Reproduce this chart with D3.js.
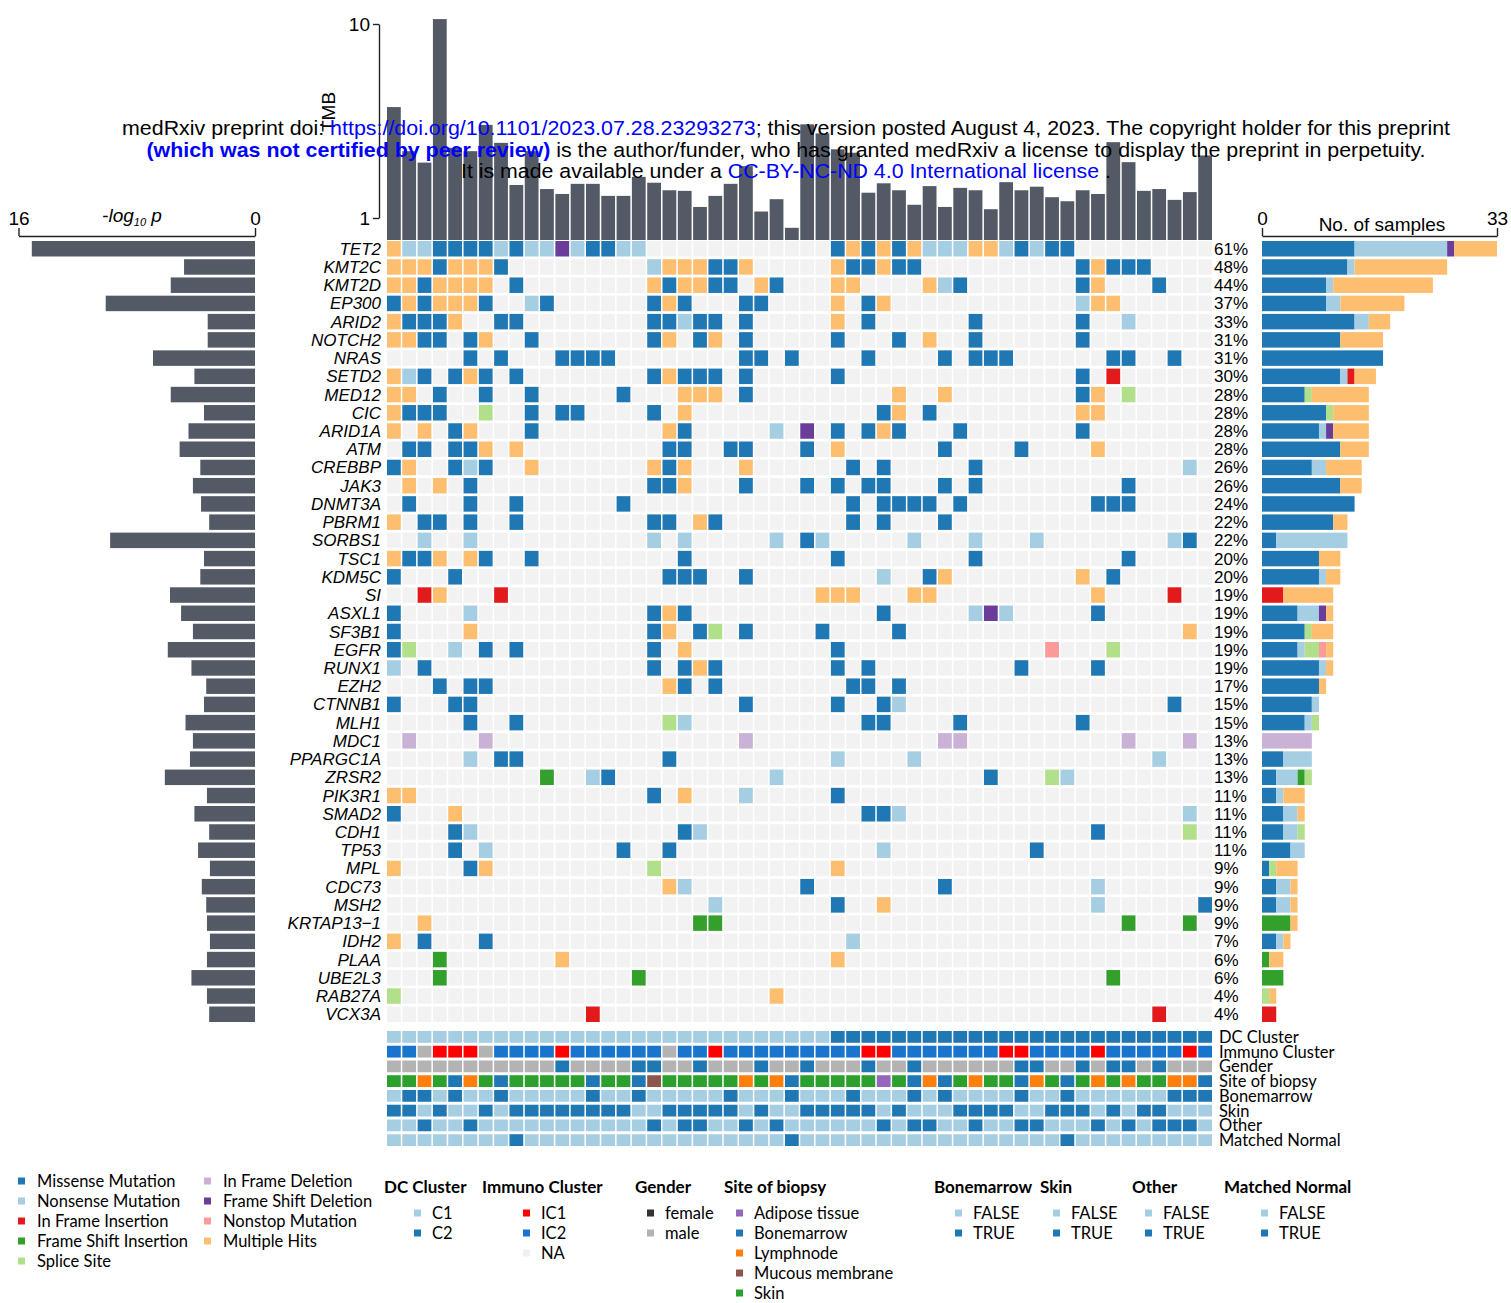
<!DOCTYPE html>
<html>
<head>
<meta charset="utf-8">
<script src="https://cdn.jsdelivr.net/npm/d3@7"></script>
<style>
body { margin: 0; background: #fff; }
text { white-space: pre; }
</style>
</head>
<body>
<div id="plot"></div>
<script>
// genes, top to bottom
var genes = ["TET2","KMT2C","KMT2D","EP300","ARID2","NOTCH2","NRAS","SETD2","MED12","CIC",
  "ARID1A","ATM","CREBBP","JAK3","DNMT3A","PBRM1","SORBS1","TSC1","KDM5C","SI",
  "ASXL1","SF3B1","EGFR","RUNX1","EZH2","CTNNB1","MLH1","MDC1","PPARGC1A","ZRSR2",
  "PIK3R1","SMAD2","CDH1","TP53","MPL","CDC73","MSH2","KRTAP13\u22121","IDH2","PLAA",
  "UBE2L3","RAB27A","VCX3A"];

// -log10 p (left bars)
var logP = [15.1,4.8,5.7,10.1,3.2,3.2,6.9,4.1,5.7,3.45,
  4.5,5.1,3.7,4.2,3.65,3.1,9.8,3.45,3.7,5.75,
  5.0,4.2,5.9,4.3,3.3,3.45,4.7,4.2,4.4,6.1,
  3.25,4.1,3.1,3.85,3.05,3.6,3.3,3.25,3.05,3.25,
  4.3,3.25,3.1];

// tumour mutation burden per sample
var tmb = [3.73,2.21,1.93,10.6,2.30,2.21,3.02,2.44,1.48,2.21,
  1.41,1.33,1.50,1.50,1.30,1.30,1.63,1.52,1.39,1.38,
  1.14,1.30,1.50,1.85,1.08,1.25,0.89,3.04,2.73,2.26,
  2.17,1.35,1.51,1.39,1.17,1.46,1.14,1.43,1.39,1.11,
  1.53,1.39,1.45,1.28,1.22,1.39,1.33,2.46,1.94,1.38,
  1.41,1.24,1.36,2.10];

// mutation calls: samples 1-27 | samples 28-54
// M missense, N nonsense, I in-frame ins, F frame-shift ins, S splice,
// D in-frame del, X frame-shift del, T nonstop, H multi hit, . none
var mutations = [
  ["HNNMMMMNMNNXNMMNN..........", "..MHMHMHNNNHHNMNMM........."],
  ["HHHMHHHM.........NHHHMMH...", "..HMMHMM..........MHMMM...."],
  ["HHMHHHH.M........HMHHMM.HM.", "..HH....HNM.......MH...M..."],
  ["MHMHHHM..NM......MHM...MM..", "..H.MH............NHH......"],
  ["HMMMH..MM........MMNMM.M...", "..H.M......M......M..N....."],
  ["HHMM.MH..M.......MH.MH.M...", "..M...M.H..M......M........"],
  [".....M.M...MMMM........MM.M", "....M....M.MMM......MM..M.."],
  ["HNM.MHM.M........MHMMM.M...", "..M...............M.I......"],
  ["HH.M..M..M.....M...HHH.M...", "......H..H........MH.S....."],
  ["HMMM..S..M.MM....M.H.......", ".....MH.M.........HH......."],
  ["H.H.MH...M........HM.....N.", "X.M.MHM...M.......M........"],
  [".MM.MMH.H.........MM..MM...", "M.H......M....M....H......."],
  ["MH..MNM..H.......HMH...H...", "...M.M.....M.............N."],
  [".H.H.M...........MMH...M...", "M.M.MM...M.M.........M....."],
  [".M...M..M......M...........", "...M.MMMM.M........MMM....."],
  ["H.MM.M..M........MM.HM.....", "...M.M...M................."],
  ["..N..N...........N.N.....N.", "MN.....N...N...N........NM."],
  ["HMMH.HM..M.........M.......", "..M........M.........M....."],
  ["M...M.............MMM..M...", ".....N..MH........H.M......"],
  ["..IH...I...................", ".HHH...HH..........H....I.."],
  ["M....N...........MHM.......", ".....M.....NXN.....M......."],
  ["M....H...........MH.MS.M...", ".M....M..................H."],
  ["MS..N.M.M........M.H.......", "..M.............T...S......"],
  ["N.M..............M.MHM.....", "..M.M.........M....M......."],
  ["...M.MM...........HM.M.....", "...MM.M...................."],
  ["M...MM.................M...", "..M..MN.................M.."],
  [".....M..M.........SN.......", "....MM....M.......M........"],
  [".D....D................D...", ".........DD..........D...D."],
  [".....N.MM.........M........", "..N....N...............N..."],
  ["..........F..NM..........N.", "............M...SN........."],
  ["HH...............M.H...N...", "..M........................"],
  ["M...H......................", "....MMN..................N."],
  ["....MN.............MN......", "...................M.....S."],
  ["....M.N........M..M........", ".....N.........M..........."],
  ["H....MH..........S.........", "..H........................"],
  ["..................HN.......", "M........M.........N......."],
  [".....................N.....", "..M..H.............N......M"],
  ["..H.................FF.....", ".....................F...F."],
  ["H.M...M....................", "...N......................."],
  ["...F.......H...............", "..H........................"],
  ["...F............F..........", "....................F......"],
  ["S........................H.", "..........................."],
  [".............I.............", ".......................I..."]
];

// sample annotations (samples 1-27 | 28-54)
var dcCluster   = ["111111111111111111111111111", "112222222222222222222222222"];
var immuno      = ["22n111n22221222222n22122222", "222211222222211222212222212"];
var gender      = ["mmmmmmmmmmmfmmmmffmmfmmmfmm", "fmmmfmmfmmmmmmffmmfmffmfmmm"];
var site        = ["SSLSBLSBSSSSSBSSBMSSSSSLSLB", "SSSSSASBLBSLSSBLSBSLSLSSLLB"];
var bonemarrow  = ["011010010000010010000010001", "000100010100001001000000111"];
var skin        = ["110100101111111100111110100", "111110100011110011101011000"];
var other       = ["001001000000000001011001010", "000001011001001100010101110"];
var matchedNorm = ["000000001000000000000000001", "000000000000000001000000000"];

var trackNames = ["DC Cluster","Immuno Cluster","Gender","Site of biopsy","Bonemarrow","Skin","Other","Matched Normal"];
var mutCodes = ["M","N","I","F","S","D","X","T","H"];
var mutLabels = ["Missense Mutation","Nonsense Mutation","In Frame Insertion","Frame Shift Insertion","Splice Site",
  "In Frame Deletion","Frame Shift Deletion","Nonstop Mutation","Multiple Hits"];
var mutColors = ["#1f78b4","#a6cee3","#e31a1c","#33a02c","#b2df8a","#cab2d6","#6a3d9a","#fb9a99","#fdbf6f"];

var nSamples = 54;
var barFill = "#535a66";
var arial = "'Liberation Sans', Arial, sans-serif";
var myriad = "Lato, 'Noto Sans', sans-serif";

var rows = mutations.map(function(m, i){
  if (m[0].length + m[1].length != nSamples) console.error("row length", genes[i], m[0].length, m[1].length);
  return (m[0] + m[1]).split("");
});
function joinTrack(t){ return (t[0] + t[1]).split(""); }
var tracks = [joinTrack(dcCluster), joinTrack(immuno), joinTrack(gender), joinTrack(site),
  joinTrack(bonemarrow), joinTrack(skin), joinTrack(other), joinTrack(matchedNorm)];

var mutColor = d3.scaleOrdinal().domain(mutCodes).range(mutColors);
var trackColor = [
  {"1":"#a6cee3","2":"#1f78b4"},
  {"1":"#ff0000","2":"#1874cd","n":"#b3b3b3"},
  {"f":"#1f78b4","m":"#b3b3b3"},
  {"S":"#2ca02c","L":"#ff7f0e","B":"#1f77b4","M":"#8c564b","A":"#9467bd"},
  {"0":"#a6cee3","1":"#1f78b4"},
  {"0":"#a6cee3","1":"#1f78b4"},
  {"0":"#a6cee3","1":"#1f78b4"},
  {"0":"#a6cee3","1":"#1f78b4"}
];

var svg = d3.select("#plot").append("svg")
  .attr("width", 1511).attr("height", 1303)
  .style("font-family", arial);

var x = d3.scaleBand().domain(d3.range(nSamples)).range([387, 1212]).paddingInner(0.1);
var y = d3.scaleBand().domain(genes).range([241, 1022]).paddingInner(0.15);

// oncoplot grid
var grid = svg.append("g");
rows.forEach(function(r, gi){
  grid.selectAll(".c" + gi)
    .data(r)
    .enter()
    .append("rect")
    .attr("x", function(d, i){ return x(i); })
    .attr("y", y(genes[gi]))
    .attr("width", x.bandwidth())
    .attr("height", y.bandwidth())
    .attr("fill", function(d){ return d == "." ? "#f2f2f2" : mutColor(d); });
});

// gene labels
svg.append("g").selectAll("text")
  .data(genes)
  .enter()
  .append("text")
  .attr("x", 381)
  .attr("y", function(d){ return y(d) + y.bandwidth()/2 + 6; })
  .attr("text-anchor", "end")
  .attr("font-style", "italic")
  .attr("font-size", 17)
  .text(function(d){ return d; });

// counts per gene
var counts = rows.map(function(r){
  return mutCodes.map(function(c){ return r.filter(function(v){ return v == c; }).length; });
});

// percent labels
svg.append("g").selectAll("text")
  .data(counts)
  .enter()
  .append("text")
  .attr("x", 1214)
  .attr("y", function(d, i){ return y(genes[i]) + y.bandwidth()/2 + 6; })
  .attr("font-size", 17)
  .text(function(d){ return Math.round(d3.sum(d) / nSamples * 100) + "%"; });

// right stacked bars
var xR = d3.scaleLinear().domain([0, 33]).range([1262, 1497]);
var rb = svg.append("g");
counts.forEach(function(c, gi){
  var acc = 0;
  c.forEach(function(v, k){
    if (v == 0) return;
    rb.append("rect")
      .attr("x", xR(acc))
      .attr("y", y(genes[gi]))
      .attr("width", xR(acc + v) - xR(acc))
      .attr("height", y.bandwidth())
      .attr("fill", mutColors[k]);
    acc += v;
  });
});
var axR = svg.append("g").attr("transform", "translate(0,236)")
  .call(d3.axisTop(xR).tickValues([0, 33]).tickSize(8).tickSizeOuter(0).tickPadding(3));
axR.append("text").attr("x", 1382).attr("y", -5).attr("text-anchor", "middle")
  .attr("fill", "#000").text("No. of samples");

// left bars
var xL = d3.scaleLinear().domain([0, 16]).range([255, 18.5]);
svg.append("g").selectAll("rect")
  .data(logP)
  .enter()
  .append("rect")
  .attr("x", function(d){ return xL(d); })
  .attr("y", function(d, i){ return y(genes[i]); })
  .attr("width", function(d){ return xL(0) - xL(d); })
  .attr("height", y.bandwidth())
  .attr("fill", barFill);
var axL = svg.append("g").attr("transform", "translate(0,236)")
  .call(d3.axisTop(xL).tickValues([16, 0]).tickSize(8).tickSizeOuter(0).tickPadding(3));
var lt = axL.append("text").attr("x", 132).attr("y", -14).attr("text-anchor", "middle")
  .attr("fill", "#000").attr("font-style", "italic");
lt.append("tspan").text("-log");
lt.append("tspan").attr("font-size", 11).attr("dy", 4).text("10");
lt.append("tspan").attr("dy", -4).text(" p");

// TMB bars
var yT = d3.scaleLog().domain([1, 10]).range([218, 24]);
svg.append("g").selectAll("rect")
  .data(tmb)
  .enter()
  .append("rect")
  .attr("x", function(d, i){ return x(i); })
  .attr("y", function(d){ return yT(d); })
  .attr("width", x.bandwidth())
  .attr("height", function(d){ return 240 - yT(d); })
  .attr("fill", barFill);
var axT = svg.append("g").attr("transform", "translate(379,0)")
  .call(d3.axisLeft(yT).tickValues([1, 10]).tickFormat(d3.format("d")).tickSize(6).tickSizeOuter(0).tickPadding(3));
svg.append("text").attr("transform", "translate(335,112) rotate(-90)")
  .attr("text-anchor", "middle").attr("font-size", 19).text("TMB");

[axR, axL, axT].forEach(function(a){
  a.attr("font-family", arial).attr("font-size", 19);
  a.selectAll("path, line").attr("stroke", "#222").attr("stroke-width", 1.4);
});

// annotation tracks
var yA = d3.scaleBand().domain(trackNames).range([1031, 1146]).paddingInner(0.2);
var ann = svg.append("g");
tracks.forEach(function(t, ti){
  ann.selectAll(".t" + ti)
    .data(t)
    .enter()
    .append("rect")
    .attr("x", function(d, i){ return x(i); })
    .attr("y", yA(trackNames[ti]))
    .attr("width", x.bandwidth())
    .attr("height", yA.bandwidth())
    .attr("fill", function(d){ return trackColor[ti][d]; });
});
svg.append("g").selectAll("text")
  .data(trackNames)
  .enter()
  .append("text")
  .attr("x", 1219)
  .attr("y", function(d){ return yA(d) + yA.bandwidth()/2 + 6; })
  .attr("font-family", myriad)
  .attr("font-size", 16.5)
  .text(function(d){ return d; });

// mutation legend
var ml = svg.append("g").attr("font-family", myriad).attr("font-size", 16.5);
mutLabels.forEach(function(lab, k){
  var col = k < 5 ? 0 : 1, row = k < 5 ? k : k - 5;
  var lx = col == 0 ? 18 : 204, ly = 1181 + row * 20;
  ml.append("rect").attr("x", lx).attr("y", ly - 3.5).attr("width", 7).attr("height", 7).attr("fill", mutColors[k]);
  ml.append("text").attr("x", lx + 19).attr("y", ly + 5.5).text(lab);
});

// annotation legends
var legendTitles = ["DC Cluster","Immuno Cluster","Gender","Site of biopsy","Bonemarrow","Skin","Other","Matched Normal"];
var legendItems = [["C1","C2"],["IC1","IC2","NA"],["female","male"],
  ["Adipose tissue","Bonemarrow","Lymphnode","Mucous membrane","Skin"],
  ["FALSE","TRUE"],["FALSE","TRUE"],["FALSE","TRUE"],["FALSE","TRUE"]];
var legendColors = [["#a6cee3","#1f78b4"],["#ff0000","#1874cd","#f0f0f0"],["#333333","#b3b3b3"],
  ["#9467bd","#1f77b4","#ff7f0e","#8c564b","#2ca02c"],
  ["#a6cee3","#1f78b4"],["#a6cee3","#1f78b4"],["#a6cee3","#1f78b4"],["#a6cee3","#1f78b4"]];
var titleX = [384, 482, 635, 724, 934, 1040, 1132, 1224];
var swatchX = [414, 523, 647, 736, 955, 1053, 1145, 1261];
var al = svg.append("g").attr("font-family", myriad);
legendTitles.forEach(function(t, i){
  al.append("text").attr("x", titleX[i]).attr("y", 1193)
    .attr("font-size", 17).attr("font-weight", "bold").text(t);
  legendItems[i].forEach(function(lab, j){
    var ly = 1213 + j * 20;
    al.append("rect").attr("x", swatchX[i]).attr("y", ly - 3.5).attr("width", 7).attr("height", 7)
      .attr("fill", legendColors[i][j]);
    al.append("text").attr("x", swatchX[i] + 18).attr("y", ly + 5.5).attr("font-size", 16.5).text(lab);
  });
});

// medRxiv watermark over the plot
var blue = "#0000ff";
var wm = [
  [["medRxiv preprint doi: ", "#000", "normal"], ["https://doi.org/10.1101/2023.07.28.23293273", blue, "normal"],
   ["; this version posted August 4, 2023. The copyright holder for this preprint", "#000", "normal"]],
  [["(which was not certified by peer review)", blue, "bold"],
   [" is the author/funder, who has granted medRxiv a license to display the preprint in perpetuity.", "#000", "normal"]],
  [["It is made available under a ", "#000", "normal"], ["CC-BY-NC-ND 4.0 International license", blue, "normal"], [" .", "#000", "normal"]]
];
var wmWidth = [1328, 1279, 650];
wm.forEach(function(line, li){
  var t = svg.append("text").attr("x", 786).attr("y", 135 + li * 21.5)
    .attr("text-anchor", "middle").attr("font-size", 20.5)
    .attr("textLength", wmWidth[li]).attr("lengthAdjust", "spacingAndGlyphs");
  line.forEach(function(p){
    t.append("tspan").attr("fill", p[1]).attr("font-weight", p[2]).text(p[0]);
  });
});
</script>
</body>
</html>
